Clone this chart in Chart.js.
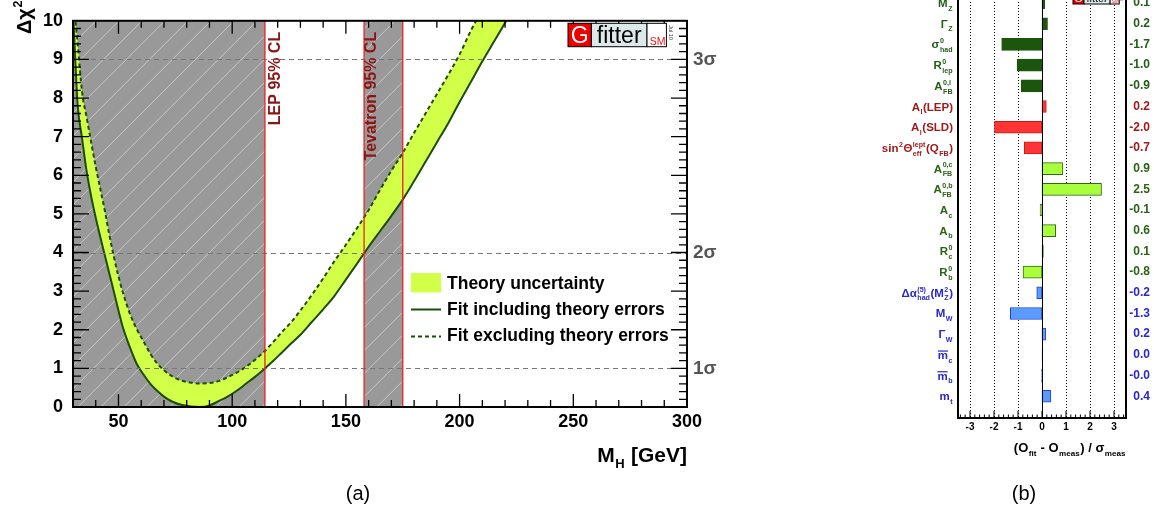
<!DOCTYPE html>
<html>
<head>
<meta charset="utf-8">
<script src="https://cdn.jsdelivr.net/npm/chart.js@4/dist/chart.umd.min.js"></script>
<style>
  html, body { margin: 0; padding: 0; background: #fff; overflow: hidden; }
  body { position: relative; width: 1154px; height: 515px; }
  #scan { position: absolute; left: 0; top: 0; }
  #pulls { position: absolute; left: 860px; top: -40px; }
</style>
</head>
<body>
<canvas id="scan" width="780" height="515"></canvas>
<canvas id="pulls" width="294" height="555"></canvas>
<script>
const FONT = '"Liberation Sans", Arial, Helvetica, sans-serif';

// ---- (a) Higgs mass scan ----
const massGrid = [30, 31, 32, 34, 36, 38, 40, 42, 44, 46, 48, 50, 52, 55, 58, 61, 64, 67, 70, 74, 78, 82, 86, 90, 94, 98,
  102, 106, 110, 114, 118, 122, 126, 130, 135, 140, 145, 150, 155, 160, 165, 170, 175, 180, 185, 190, 195, 200, 205, 210,
  215, 220, 225];
const chi2WithTheory = [10.3, 9.0, 7.85, 6.95, 6.1, 5.45, 4.9, 4.4, 3.93, 3.45, 2.98, 2.5, 2.05, 1.55, 1.12, 0.84, 0.6,
  0.42, 0.27, 0.13, 0.05, 0.01, 0.0, 0.04, 0.15, 0.27, 0.42, 0.6, 0.78, 0.98, 1.19, 1.42, 1.65, 1.87, 2.2, 2.53, 2.88,
  3.3, 3.72, 4.15, 4.55, 4.95, 5.37, 5.85, 6.35, 6.85, 7.35, 7.9, 8.42, 8.95, 9.45, 9.95, 10.5];
const chi2NoTheory = [10.7, 10.05, 9.45, 8.15, 7.5, 6.85, 6.22, 5.65, 5.08, 4.45, 3.88, 3.38, 2.95, 2.42, 2.02, 1.7, 1.38,
  1.13, 0.95, 0.78, 0.68, 0.63, 0.61, 0.62, 0.67, 0.77, 0.89, 1.04, 1.22, 1.43, 1.68, 1.95, 2.2, 2.5, 2.9, 3.33, 3.78,
  4.2, 4.64, 5.1, 5.62, 6.12, 6.58, 7.1, 7.6, 8.1, 8.6, 9.13, 9.75, 10.3, 10.85, 11.4, 11.95];
const massTicks = [50, 100, 150, 200, 250, 300];
const sigmaLevels = [1, 4, 9];
const sigmaLabels = ['1σ', '2σ', '3σ'];
const excluded = [
  { from: 30, to: 114.4, label: 'LEP 95% CL', textAt: 119.2 },
  { from: 158, to: 175, label: 'Tevatron 95% CL', textAt: 161.2 }
];

// ---- (b) pulls ----
const observables = ['M_{Z}', 'Γ_{Z}', 'σ^{0}_{had}', 'R^{0}_{lep}', 'A^{0,l}_{FB}', 'A_{l}(LEP)', 'A_{l}(SLD)',
  'sin^{2}Θ^{lept}_{eff}(Q_{FB})', 'A^{0,c}_{FB}', 'A^{0,b}_{FB}', 'A_{c}', 'A_{b}', 'R^{0}_{c}', 'R^{0}_{b}',
  'Δα^{(5)}_{had}(M^{2}_{Z})', 'M_{W}', 'Γ_{W}', '#bar{m}_{c}', '#bar{m}_{b}', 'm_{t}'];
const pulls = [0.12, 0.23, -1.68, -1.04, -0.87, 0.18, -1.98, -0.74, 0.87, 2.48, -0.08, 0.57, 0.06, -0.79, -0.22, -1.32,
  0.16, 0.01, -0.02, 0.37];
const groups = [0, 0, 0, 0, 0, 1, 1, 1, 2, 2, 2, 2, 2, 2, 3, 3, 3, 3, 3, 3];
const pullTicks = [-3, -2, -1, 0, 1, 2, 3];

const barFill = ['#1c560c', '#ff3535', '#aaff3c', '#5a9bff'];
const barEdge = ['#1c560c', '#c81818', '#2f6e10', '#2442cc'];
const textColor = ['#225e16', '#a01a1a', '#2a6414', '#2828c8'];

const GREEN = '#1d4c0c';
const BAND = '#d2ff48';

// tiny ROOT-like latex: _{..} ^{..} #bar{..}
function parseTex(s) {
  const out = [];
  let i = 0, buf = '';
  const grab = () => { const j = s.indexOf('}', i); const t = s.slice(i + 1, j); i = j + 1; return t; };
  const flush = () => { if (buf) { out.push({ t: buf }); buf = ''; } };
  while (i < s.length) {
    const c = s[i];
    if (s.startsWith('#bar', i)) { flush(); i += 4; out.push({ t: grab(), bar: true }); }
    else if (c === '_' || c === '^') {
      flush(); i++;
      const key = c === '_' ? 'sub' : 'sup';
      const t = grab();
      const last = out[out.length - 1];
      if (last && last.script && last[key] === undefined) last[key] = t;
      else out.push({ script: true, [key]: t });
    } else { buf += c; i++; }
  }
  flush();
  return out;
}

function drawTex(ctx, str, x, y, o) {
  const parts = parseTex(str);
  const weight = o.weight || 'bold';
  const big = `${weight} ${o.size}px ${FONT}`;
  const small = `${weight} ${(o.size * 0.62).toFixed(1)}px ${FONT}`;
  let w = 0;
  for (const p of parts) {
    if (p.script) {
      ctx.font = small;
      w += Math.max(p.sup ? ctx.measureText(p.sup).width : 0, p.sub ? ctx.measureText(p.sub).width : 0) + 1;
    } else { ctx.font = big; w += ctx.measureText(p.t).width; }
  }
  let cx = o.align === 'right' ? x - w : o.align === 'center' ? x - w / 2 : x;
  ctx.save();
  ctx.fillStyle = o.color; ctx.strokeStyle = o.color;
  ctx.textAlign = 'left'; ctx.textBaseline = 'alphabetic';
  for (const p of parts) {
    if (p.script) {
      ctx.font = small;
      let sw = 0;
      if (p.sup) { ctx.fillText(p.sup, cx + 0.5, y - o.size * 0.45); sw = ctx.measureText(p.sup).width; }
      if (p.sub) { ctx.fillText(p.sub, cx + 0.5, y + o.size * 0.32); sw = Math.max(sw, ctx.measureText(p.sub).width); }
      cx += sw + 1;
    } else {
      ctx.font = big;
      ctx.fillText(p.t, cx, y);
      const tw = ctx.measureText(p.t).width;
      if (p.bar) {
        ctx.lineWidth = 1.2;
        ctx.beginPath(); ctx.moveTo(cx, y - o.size * 0.68); ctx.lineTo(cx + tw, y - o.size * 0.68); ctx.stroke();
      }
      cx += tw;
    }
  }
  ctx.restore();
}

function drawLogo(ctx, x, y, s) {
  const h = 23.4 * s, wg = 23.4 * s, wf = 55.6 * s, ws = 19.4 * s;
  ctx.save();
  ctx.lineWidth = 1; ctx.strokeStyle = '#000';
  ctx.fillStyle = '#ee0000'; ctx.fillRect(x, y, wg, h); ctx.strokeRect(x, y, wg, h);
  ctx.fillStyle = '#dde9e9'; ctx.fillRect(x + wg, y, wf, h); ctx.strokeRect(x + wg, y, wf, h);
  ctx.fillStyle = '#fff'; ctx.fillRect(x + wg + wf, y, ws, h); ctx.strokeRect(x + wg + wf, y, ws, h);
  ctx.textAlign = 'center'; ctx.textBaseline = 'alphabetic';
  ctx.fillStyle = '#fff'; ctx.font = `${23 * s}px ${FONT}`;
  ctx.fillText('G', x + wg / 2, y + h - 3.6 * s);
  ctx.fillStyle = '#000'; ctx.font = `${23 * s}px ${FONT}`;
  ctx.fillText('fitter', x + wg + wf / 2, y + h - 4 * s);
  ctx.fillStyle = '#ee1111'; ctx.font = `${10.5 * s}px ${FONT}`;
  ctx.fillText('SM', x + wg + wf + ws / 2 + 1 * s, y + h - 2 * s);
  ctx.translate(x + wg + wf + ws + 2.5 * s, y + 2 * s);
  ctx.rotate(Math.PI / 2);
  ctx.fillStyle = '#333'; ctx.font = `${5.5 * s}px ${FONT}`; ctx.textAlign = 'left';
  ctx.fillText('Jul 10', 0, 0);
  ctx.restore();
}

const scanDecor = {
  id: 'scanDecor',
  beforeDatasetsDraw(chart) {
    const { ctx, chartArea: a, scales: { x } } = chart;
    ctx.save();
    for (const r of excluded) {
      const x0 = x.getPixelForValue(r.from), x1 = x.getPixelForValue(r.to);
      ctx.fillStyle = '#999999';
      ctx.fillRect(x0, a.top, x1 - x0, a.bottom - a.top);
      ctx.save();
      ctx.beginPath(); ctx.rect(x0, a.top, x1 - x0, a.bottom - a.top); ctx.clip();
      ctx.strokeStyle = 'rgba(255,255,255,0.45)'; ctx.lineWidth = 1;
      const H = a.bottom - a.top;
      for (let k = a.left - H; k < a.right; k += 23) {
        ctx.beginPath(); ctx.moveTo(k, a.bottom); ctx.lineTo(k + H, a.top); ctx.stroke();
      }
      ctx.restore();
    }
    ctx.restore();
  },
  afterDatasetsDraw(chart) {
    const { ctx, chartArea: a, scales: { x, y } } = chart;
    ctx.save();
    // sigma levels
    ctx.strokeStyle = '#777'; ctx.lineWidth = 1; ctx.setLineDash([5, 4]);
    for (const v of sigmaLevels) {
      const py = Math.round(y.getPixelForValue(v)) + 0.5;
      ctx.beginPath(); ctx.moveTo(a.left, py); ctx.lineTo(a.right, py); ctx.stroke();
    }
    ctx.setLineDash([]);
    // exclusion edges and labels
    ctx.strokeStyle = '#ee2020'; ctx.lineWidth = 1.3;
    for (const r of excluded) {
      for (const v of [r.from, r.to]) {
        if (v <= x.min) continue;
        const px = x.getPixelForValue(v);
        ctx.beginPath(); ctx.moveTo(px, a.top); ctx.lineTo(px, a.bottom); ctx.stroke();
      }
      ctx.save();
      ctx.translate(x.getPixelForValue(r.textAt), a.top + 11);
      ctx.rotate(-Math.PI / 2);
      ctx.fillStyle = '#8c1414'; ctx.font = `bold 16px ${FONT}`;
      ctx.textAlign = 'right'; ctx.textBaseline = 'middle';
      ctx.fillText(r.label, 0, 0);
      ctx.restore();
    }
    // frame
    ctx.strokeStyle = '#000'; ctx.lineWidth = 2;
    ctx.strokeRect(a.left, a.top, a.right - a.left, a.bottom - a.top);
    // ticks
    ctx.lineWidth = 1.3;
    ctx.beginPath();
    for (let i = 1; i < 50; i++) {
      const v = i / 5, py = y.getPixelForValue(v), len = i % 5 === 0 ? 16 : 8;
      ctx.moveTo(a.left, py); ctx.lineTo(a.left + len, py);
      ctx.moveTo(a.right, py); ctx.lineTo(a.right - len, py);
    }
    for (let v = 40; v < 300; v += 10) {
      const px = x.getPixelForValue(v), len = v % 50 === 0 ? 13 : 7;
      ctx.moveTo(px, a.bottom); ctx.lineTo(px, a.bottom - len);
      ctx.moveTo(px, a.top); ctx.lineTo(px, a.top + len);
    }
    ctx.stroke();
    // legend
    const [dashed, solid] = chart.data.datasets;
    const lx = 411, lw = 30;
    ctx.fillStyle = BAND; ctx.fillRect(lx, 273, lw, 19.5);
    ctx.strokeStyle = GREEN; ctx.lineWidth = 2;
    ctx.beginPath(); ctx.moveTo(lx, 309.5); ctx.lineTo(lx + lw, 309.5); ctx.stroke();
    ctx.setLineDash([4, 3]);
    ctx.beginPath(); ctx.moveTo(lx, 336.5); ctx.lineTo(lx + lw, 336.5); ctx.stroke();
    ctx.setLineDash([]);
    ctx.fillStyle = '#000'; ctx.font = `bold 17.5px ${FONT}`; ctx.textAlign = 'left'; ctx.textBaseline = 'alphabetic';
    ctx.fillText('Theory uncertainty', 447, 289);
    ctx.fillText(solid.label, 447, 314.5);
    ctx.fillText(dashed.label, 447, 340.5);
    // logo
    drawLogo(ctx, 568, 23.3, 1);
    // titles
    drawTex(ctx, 'M_{H} [GeV]', a.right, 461.5, { size: 21, color: '#000', align: 'right' });
    ctx.save();
    ctx.translate(31, 34); ctx.rotate(-Math.PI / 2);
    drawTex(ctx, 'Δχ^{2}', 0, 0, { size: 20, color: '#000', align: 'left' });
    ctx.restore();
    ctx.fillStyle = '#000'; ctx.font = `20px ${FONT}`; ctx.textAlign = 'center'; ctx.textBaseline = 'middle';
    ctx.fillText('(a)', 358, 494);
    ctx.restore();
  }
};

const pt = (xs, ys) => xs.map((m, i) => ({ x: m, y: ys[i] }));
const hidden = { grid: { display: false, drawTicks: false }, border: { display: false } };

new Chart(document.getElementById('scan'), {
  type: 'line',
  data: {
    datasets: [
      {
        label: 'Fit excluding theory errors', data: pt(massGrid, chi2NoTheory),
        borderColor: GREEN, borderWidth: 2, borderDash: [4, 3], pointRadius: 0, fill: false,
        cubicInterpolationMode: 'monotone'
      },
      {
        label: 'Fit including theory errors', data: pt(massGrid, chi2WithTheory),
        borderColor: GREEN, borderWidth: 2, pointRadius: 0, fill: '-1', backgroundColor: BAND,
        cubicInterpolationMode: 'monotone'
      }
    ]
  },
  options: {
    responsive: false,
    animation: false,
    layout: { padding: { top: 9, left: 0, right: 0, bottom: 0 } },
    plugins: { legend: { display: false }, tooltip: { enabled: false } },
    scales: {
      x: {
        type: 'linear', min: 30, max: 300, ...hidden,
        afterBuildTicks: s => { s.ticks = massTicks.map(v => ({ value: v })); },
        afterFit: s => { s.height = 108; },
        ticks: { padding: 4, maxRotation: 0, autoSkip: false, color: '#000', font: { family: FONT, size: 18, weight: 'bold' } }
      },
      y: {
        type: 'linear', min: 0, max: 10, position: 'left', ...hidden,
        afterFit: s => { s.width = 73; },
        ticks: { stepSize: 1, padding: 10, color: '#000', font: { family: FONT, size: 18, weight: 'bold' } }
      },
      sigma: {
        type: 'linear', min: 0, max: 10, position: 'right', ...hidden,
        afterBuildTicks: s => { s.ticks = sigmaLevels.map(v => ({ value: v })); },
        afterFit: s => { s.width = 93; },
        ticks: {
          padding: 6, color: '#555', font: { family: FONT, size: 19, weight: 'bold' },
          callback: v => sigmaLabels[sigmaLevels.indexOf(v)]
        }
      }
    }
  },
  plugins: [scanDecor]
});

const pullDecor = {
  id: 'pullDecor',
  beforeDatasetsDraw(chart) {
    const { ctx, chartArea: a, scales: { x } } = chart;
    ctx.save();
    ctx.strokeStyle = '#000'; ctx.lineWidth = 1; ctx.setLineDash([1, 2]);
    for (const v of pullTicks) {
      if (v === 0) continue;
      const px = Math.round(x.getPixelForValue(v)) + 0.5;
      ctx.beginPath(); ctx.moveTo(px, a.top); ctx.lineTo(px, a.bottom); ctx.stroke();
    }
    ctx.restore();
  },
  afterDatasetsDraw(chart) {
    const { ctx, chartArea: a, scales: { x, y } } = chart;
    ctx.save();
    const x0 = Math.round(x.getPixelForValue(0)) + 0.5;
    ctx.strokeStyle = '#000'; ctx.lineWidth = 1;
    ctx.beginPath(); ctx.moveTo(x0, a.top); ctx.lineTo(x0, a.bottom); ctx.stroke();
    ctx.lineWidth = 2;
    ctx.beginPath();
    ctx.moveTo(a.left, a.top); ctx.lineTo(a.left, a.bottom); ctx.lineTo(a.right, a.bottom); ctx.lineTo(a.right, a.top);
    ctx.stroke();
    ctx.lineWidth = 1;
    ctx.beginPath();
    for (let i = -17; i <= 17; i++) {
      const px = x.getPixelForValue(i / 5), len = i % 5 === 0 ? 7 : 3.5;
      ctx.moveTo(px, a.bottom); ctx.lineTo(px, a.bottom - len);
    }
    ctx.stroke();
    observables.forEach((s, i) => {
      drawTex(ctx, s, a.left - 5, y.getPixelForValue(i) + 4, { size: 11.5, color: textColor[groups[i]], align: 'right' });
    });
    drawLogo(ctx, 213, 33, 0.47);
    drawTex(ctx, '(O_{fit} - O_{meas}) / σ_{meas}', a.right, 492, { size: 13, color: '#000', align: 'right' });
    ctx.fillStyle = '#000'; ctx.font = `20px ${FONT}`; ctx.textAlign = 'center'; ctx.textBaseline = 'middle';
    ctx.fillText('(b)', 164, 534);
    ctx.restore();
  }
};

new Chart(document.getElementById('pulls'), {
  type: 'bar',
  data: {
    datasets: [{
      data: pulls.map((v, i) => ({ x: v, y: i })),
      backgroundColor: groups.map(g => barFill[g]),
      borderColor: groups.map(g => barEdge[g]),
      borderWidth: 1,
      borderSkipped: false,
      barThickness: 12
    }]
  },
  options: {
    indexAxis: 'y',
    responsive: false,
    animation: false,
    layout: { padding: { top: 12, left: 98, right: 4, bottom: 0 } },
    plugins: { legend: { display: false }, tooltip: { enabled: false } },
    scales: {
      x: {
        type: 'linear', min: -3.5, max: 3.5, ...hidden,
        afterBuildTicks: s => { s.ticks = pullTicks.map(v => ({ value: v })); },
        afterFit: s => { s.height = 97; },
        ticks: { padding: 3, maxRotation: 0, autoSkip: false, color: '#000', font: { family: FONT, size: 10, weight: 'bold' } }
      },
      y: { type: 'linear', min: -1.5, max: 20.05, reverse: true, offset: false, display: false },
      vals: {
        type: 'linear', position: 'right', min: -1.5, max: 20.05, reverse: true, offset: false, ...hidden,
        afterBuildTicks: s => { s.ticks = pulls.map((v, i) => ({ value: i })); },
        afterFit: s => { s.width = 24; },
        ticks: {
          crossAlign: 'far', autoSkip: false,
          font: { family: FONT, size: 12, weight: 'bold' },
          color: c => textColor[groups[c.index]],
          callback: v => pulls[v].toFixed(1)
        }
      }
    }
  },
  plugins: [pullDecor]
});
</script>
</body>
</html>
